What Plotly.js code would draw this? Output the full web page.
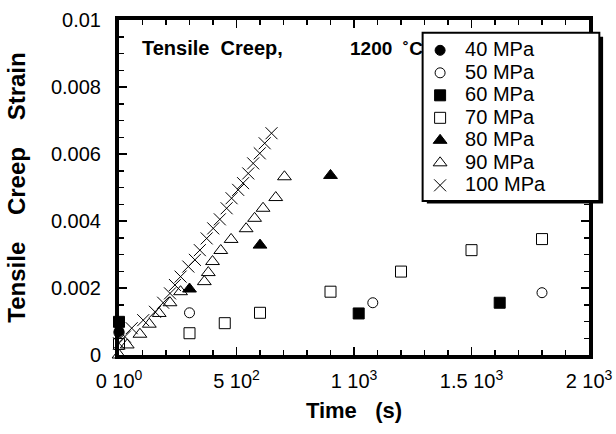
<!DOCTYPE html>
<html>
<head>
<meta charset="utf-8">
<script src="https://cdn.plot.ly/plotly-3.0.1.min.js"></script>
<style>html,body{margin:0;padding:0;background:#fff;}#chart{width:616px;height:434px;}</style>
</head>
<body>
<div id="chart"></div>
<script>
// ---- data (time in s, tensile creep strain) ----
const seriesNames = ['40 MPa', '50 MPa', '60 MPa', '70 MPa', '80 MPa', '90 MPa', '100 MPa'];

const t40 = [0];
const e40 = [0.0007];

const t50 = [0, 300, 1080, 1800];
const e50 = [0.00066, 0.00126, 0.00156, 0.00186];

const t60 = [0, 1020, 1620];
const e60 = [0.00099, 0.00124, 0.00156];

const t70 = [0, 300, 450, 600, 900, 1200, 1500, 1800];
const e70 = [0.00033, 0.00065, 0.00095, 0.00126, 0.00189, 0.00249, 0.00313, 0.00346];

const t80 = [300, 600, 900];
const e80 = [0.00197, 0.00328, 0.00536];

const t90 = [0, 35, 89, 129, 171, 217, 262, 363, 380, 398, 433, 477, 541, 577, 613, 667, 704];
const e90 = [0.0000, 0.0003, 0.00062, 0.00092, 0.00124, 0.00156, 0.00189, 0.00219, 0.00246, 0.00279,
             0.00312, 0.00345, 0.00377, 0.00408, 0.00438, 0.00470, 0.00532];

const t100 = [0, 25, 54, 103, 153, 188, 217, 238, 262, 295, 323, 344, 373, 401, 429, 458, 479, 507, 528, 550, 571, 599, 620, 649];
const e100 = [0.00035, 0.00055, 0.0008, 0.00104, 0.00129, 0.00156, 0.00184, 0.00209, 0.00234, 0.00264,
              0.00284, 0.00313, 0.00348, 0.00378, 0.00405, 0.00438, 0.00468, 0.00493, 0.00513, 0.00542,
              0.00572, 0.00602, 0.00632, 0.00662];

const xTickVals = [0, 500, 1000, 1500, 2000];
const xTickText = ['0 10<sup>0</sup>', '5 10<sup>2</sup>', '1 10<sup>3</sup>', '1.5 10<sup>3</sup>', '2 10<sup>3</sup>'];
const yTickVals = [0, 0.002, 0.004, 0.006, 0.008, 0.01];
const yTickText = ['0', '0.002', '0.004', '0.006', '0.008', '0.01'];

// ---- traces ----
const xs = [t40, t50, t60, t70, t80, t90, t100];
const ys = [e40, e50, e60, e70, e80, e90, e100];
const symbols = ['circle', 'circle-open', 'square', 'square-open', 'triangle-up', 'triangle-up-open', 'x-thin-open'];
const sizes = [10, 10, 11, 11, 12, 12, 12];

const traces = seriesNames.map((name, i) => ({
  type: 'scatter',
  mode: 'markers',
  name: '<span style="font-size:20px">' + name + '</span>',
  x: xs[i],
  y: ys[i],
  cliponaxis: false,
  marker: {symbol: symbols[i], size: sizes[i], color: '#000', line: {color: '#000', width: 1}}
}));

const FONT = 'Liberation Sans, Arial, Helvetica, sans-serif';
const SP = '\u00a0';

const layout = {
  width: 616, height: 434,
  margin: {l: 119, r: 27, t: 20, b: 79},
  paper_bgcolor: '#fff', plot_bgcolor: '#fff',
  font: {family: FONT, size: 20, color: '#000'},
  showlegend: true,
  legend: {
    x: 0.630, y: 0.958, xanchor: 'left', yanchor: 'top',
    bgcolor: 'rgba(0,0,0,0)', borderwidth: 0, itemwidth: 40,
    font: {family: FONT, size: 15, color: '#000'},
    tracegroupgap: 0
  },
  xaxis: {
    range: [0, 2000], tickmode: 'array', tickvals: xTickVals, ticktext: xTickText,
    ticks: 'inside', ticklen: 8, tickwidth: 1.5, tickcolor: '#000',
    minor: {dtick: 100, ticks: 'inside', ticklen: 5, tickwidth: 1.5, tickcolor: '#000'},
    showline: true, linewidth: 4, linecolor: '#000', mirror: 'allticks',
    showgrid: false, zeroline: false, ticklabelstandoff: 5,
    tickfont: {family: FONT, size: 20},
    title: {text: 'Time' + SP.repeat(3) + '(s)' + SP.repeat(6), font: {family: FONT, size: 22, weight: 'bold'}, standoff: 13}
  },
  yaxis: {
    range: [0, 0.01], tickmode: 'array', tickvals: yTickVals, ticktext: yTickText,
    ticks: 'inside', ticklen: 8, tickwidth: 1.5, tickcolor: '#000',
    minor: {dtick: 0.0005, ticks: 'inside', ticklen: 5, tickwidth: 1.5, tickcolor: '#000'},
    showline: true, linewidth: 4, linecolor: '#000', mirror: 'allticks',
    showgrid: false, zeroline: false, ticklabelstandoff: 10,
    tickfont: {family: FONT, size: 20},
    title: {text: 'Tensile' + SP.repeat(4) + 'Creep' + SP.repeat(4) + 'Strain' + SP.repeat(3), font: {family: FONT, size: 24, weight: 'bold'}, standoff: 20}
  },
  shapes: [
    {type: 'rect', xref: 'paper', yref: 'paper', x0: 0.655, x1: 1.03, y0: 0.452, y1: 0.95,
     fillcolor: '#000', line: {width: 0}, layer: 'above'},
    {type: 'rect', xref: 'paper', yref: 'paper', x0: 0.646, x1: 1.022, y0: 0.46, y1: 0.962,
     fillcolor: '#fff', line: {color: '#000', width: 2}, layer: 'above'}
  ],
  annotations: [
    {text: 'Tensile' + SP + SP + 'Creep,', xref: 'paper', yref: 'paper', x: 0.045, y: 0.916,
     xanchor: 'left', yanchor: 'middle', showarrow: false, font: {family: FONT, size: 20, weight: 'bold'}},
    {text: '1200' + SP + SP + '\u02daC', xref: 'paper', yref: 'paper', x: 0.488, y: 0.916,
     xanchor: 'left', yanchor: 'middle', showarrow: false, font: {family: FONT, size: 19, weight: 'bold'}}
  ]
};

Plotly.newPlot('chart', traces, layout, {displayModeBar: false, staticPlot: true});
</script>
</body>
</html>
